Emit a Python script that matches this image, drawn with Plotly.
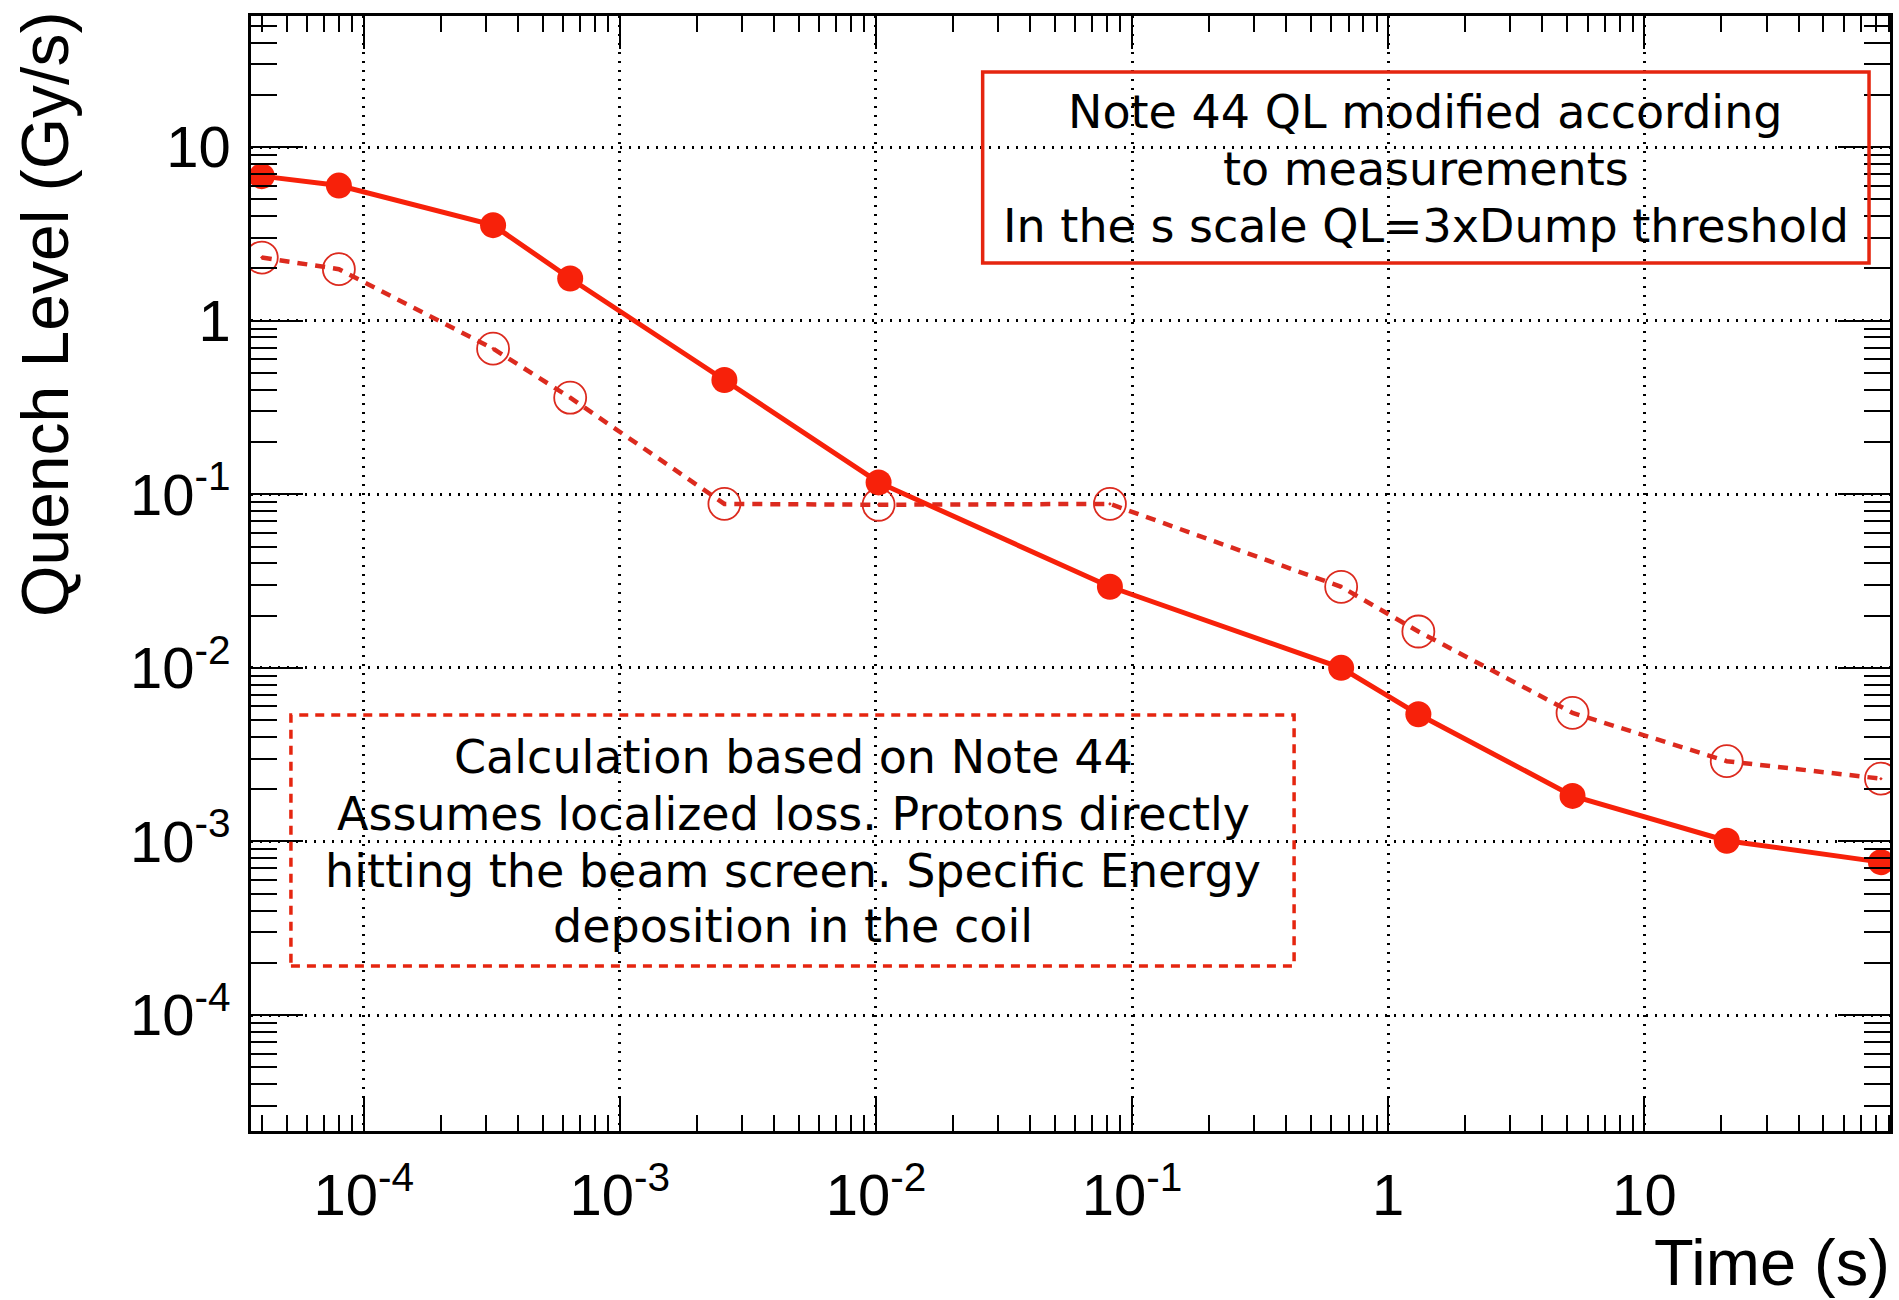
import plotly.graph_objects as go

# ---- data ----
times = [4e-5, 8e-5, 3.2e-4, 6.4e-4, 2.56e-3, 1.024e-2, 8.192e-2, 0.655, 1.311, 5.243, 20.97, 83.89]
ql_modified = [6.8, 6.0, 3.55, 1.75, 0.455, 0.117, 0.0293, 0.0100, 0.0054, 0.00183, 0.00101, 0.00076]
ql_note44 = [2.31, 1.98, 0.69, 0.36, 0.088, 0.087, 0.088, 0.0293, 0.0162, 0.0055, 0.0029, 0.0023]

x_tick_vals = [1e-4, 1e-3, 1e-2, 1e-1, 1, 10]
x_tick_text = ["10<sup>-4</sup>", "10<sup>-3</sup>", "10<sup>-2</sup>", "10<sup>-1</sup>", "1", "10"]
y_tick_vals = [1e-4, 1e-3, 1e-2, 1e-1, 1, 10]
y_tick_text = ["10<sup>-4</sup>", "10<sup>-3</sup>", "10<sup>-2</sup>", "10<sup>-1</sup>", "1", "10"]

x_title = "Time (s)"
y_title = "Quench Level (Gy/s)"
box1_lines = ["Note 44 QL modified according", "to measurements", "In the s scale QL=3xDump threshold"]
box2_lines = ["Calculation based on Note 44", "Assumes localized loss. Protons directly",
              "hitting the beam screen. Specific Energy", "deposition in the coil"]

# ---- layout geometry (pixels) ----
W, H = 1899, 1300
L, R, T, B = 251, 1893, 16, 1131


def px_x(p):
    return (p - L) / (R - L)


def px_y(p):
    return (B - p) / (B - T)


RED = "#f7210a"
RED2 = "#dc2a1e"
BOXRED = "#e5250f"

fig = go.Figure()
fig.add_trace(go.Scatter(
    x=times, y=ql_note44, mode="lines+markers",
    line=dict(color=RED2, width=4.5, dash="10px,8px"),
    marker=dict(symbol="circle-open-dot", size=32, color=RED2, line=dict(width=1.8, color=RED2)),
    showlegend=False,
))
fig.add_trace(go.Scatter(
    x=times, y=ql_modified, mode="lines+markers",
    line=dict(color=RED, width=5),
    marker=dict(symbol="circle", size=26, color=RED),
    showlegend=False,
))

axis_common = dict(
    type="log", tickmode="array",
    ticks="inside", tickwidth=2, tickcolor="black",
    showgrid=True, gridcolor="black", gridwidth=2.5, griddash="2px,7px",
    showline=True, linecolor="black", linewidth=2.5, mirror="allticks",
    zeroline=False,
    tickfont=dict(family="Liberation Sans, Arial, sans-serif", size=58, color="black"),
)

fig.update_xaxes(
    **axis_common,
    range=[-4.44, 1.959],
    tickvals=x_tick_vals, ticktext=x_tick_text,
    ticklen=33,
    minor=dict(dtick="D1", ticks="inside", ticklen=16, tickwidth=2, tickcolor="black", showgrid=False),
    ticklabelstandoff=12,
)
fig.update_yaxes(
    **axis_common,
    range=[-4.668, 1.755],
    tickvals=y_tick_vals, ticktext=y_tick_text,
    ticklen=52,
    minor=dict(dtick="D1", ticks="inside", ticklen=26, tickwidth=2, tickcolor="black", showgrid=False),
    ticklabelstandoff=6,
)

annotations = [
    dict(text=y_title, textangle=-90, xref="paper", yref="paper",
         x=px_x(45), y=px_y(10), xanchor="center", yanchor="top", showarrow=False,
         font=dict(family="Liberation Sans, Arial, sans-serif", size=66, color="black")),
    dict(text=x_title, xref="paper", yref="paper",
         x=px_x(1895), y=px_y(1262), xanchor="right", yanchor="middle", showarrow=False,
         font=dict(family="Liberation Sans, Arial, sans-serif", size=65, color="black")),
]
box_font = dict(family="DejaVu Sans", size=46, color="black")
for line, yc in zip(box1_lines, [112, 169, 225.5]):
    annotations.append(dict(text=line, xref="paper", yref="paper", x=px_x(1428), y=px_y(yc),
                            xanchor="center", yanchor="middle", showarrow=False, font=box_font))
for line, yc in zip(box2_lines, [757, 814, 870.5, 926]):
    annotations.append(dict(text=line, xref="paper", yref="paper", x=px_x(794), y=px_y(yc),
                            xanchor="center", yanchor="middle", showarrow=False, font=box_font))

shapes = [
    dict(type="rect", xref="paper", yref="paper", x0=px_x(984), x1=px_x(1872), y0=px_y(263), y1=px_y(72),
         line=dict(color=BOXRED, width=3.5)),
    dict(type="rect", xref="paper", yref="paper", x0=px_x(291), x1=px_x(1296), y0=px_y(966), y1=px_y(715),
         line=dict(color=BOXRED, width=3.5, dash="9px,7px")),
]

fig.update_layout(
    width=W, height=H,
    margin=dict(l=L, r=W - R, t=T, b=H - B),
    paper_bgcolor="white", plot_bgcolor="white",
    annotations=annotations, shapes=shapes,
    showlegend=False,
)

fig.write_html("out.html")
